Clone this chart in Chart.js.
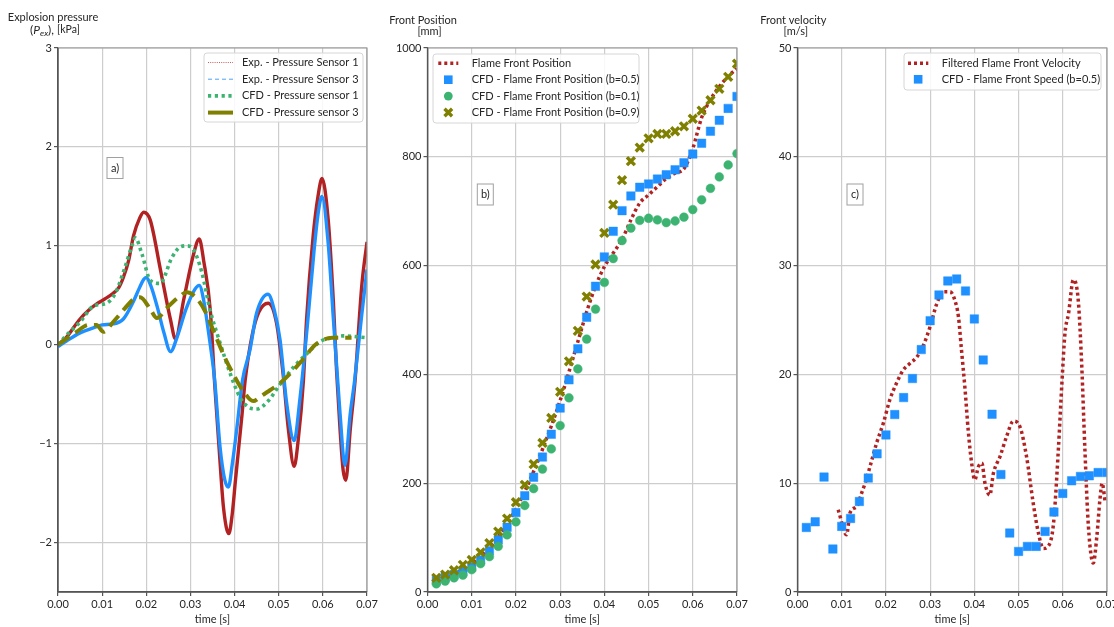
<!DOCTYPE html>
<html>
<head>
<meta charset="utf-8">
<script src="https://cdn.jsdelivr.net/npm/chart.js@4.4.0/dist/chart.umd.min.js"></script>
<style>
    html, body { margin: 0; padding: 0; background: #fff; }
    #figure { position: relative; width: 1114px; height: 627px; overflow: hidden; }
    #figure canvas { position: absolute; top: 0; }
</style>
</head>
<body>
<div id="figure">
    <canvas id="pressureChart" width="385" height="627" style="left:0px"></canvas>
    <canvas id="positionChart" width="380" height="627" style="left:380px"></canvas>
    <canvas id="velocityChart" width="362" height="627" style="left:752px"></canvas>
</div>
<script>
// ---- a) explosion pressure [kPa] vs time [s]
const expSensor1Time = [0, 0.002, 0.0048, 0.007, 0.009, 0.0105, 0.0125, 0.0138, 0.0148, 0.016, 0.0171, 0.0185, 0.0194, 0.0209, 0.0232, 0.0255, 0.0266, 0.0285, 0.0308, 0.032, 0.033, 0.0345, 0.0355, 0.0365, 0.0375, 0.0387, 0.0395, 0.0402, 0.0417, 0.0424, 0.044, 0.0455, 0.0476, 0.0495, 0.051, 0.0522, 0.0535, 0.0544, 0.0556, 0.0563, 0.0578, 0.0589, 0.0598, 0.0612, 0.0624, 0.0631, 0.0639, 0.0646, 0.0652, 0.0662, 0.0673, 0.0688, 0.07];
const expSensor1 = [0, 0.08, 0.25, 0.35, 0.42, 0.46, 0.52, 0.58, 0.68, 0.85, 1.1, 1.28, 1.34, 1.26, 0.76, 0.25, 0.06, 0.46, 0.93, 1.07, 0.85, 0.35, -0.4, -1.05, -1.65, -1.91, -1.7, -1.37, -0.7, -0.36, 0.1, 0.33, 0.42, 0.22, -0.3, -0.86, -1.23, -0.97, -0.36, 0.25, 1.1, 1.5, 1.68, 1.27, 0.42, -0.26, -0.86, -1.27, -1.37, -0.86, -0.36, 0.59, 1.04];

const expSensor3Time = [0, 0.002, 0.005, 0.008, 0.01, 0.0125, 0.0148, 0.017, 0.0185, 0.0194, 0.02, 0.021, 0.0225, 0.024, 0.0255, 0.027, 0.029, 0.031, 0.032, 0.033, 0.034, 0.0345, 0.0355, 0.0367, 0.0378, 0.0386, 0.0395, 0.0405, 0.0418, 0.0435, 0.045, 0.0476, 0.049, 0.0503, 0.0518, 0.0535, 0.0548, 0.0565, 0.058, 0.059, 0.0598, 0.0612, 0.0624, 0.0639, 0.065, 0.0662, 0.0672, 0.0688, 0.07];
const expSensor3 = [-0.02, 0.04, 0.12, 0.17, 0.2, 0.21, 0.26, 0.43, 0.58, 0.66, 0.68, 0.6, 0.38, 0.12, -0.07, 0.08, 0.36, 0.56, 0.6, 0.45, 0.16, 0, -0.36, -1.03, -1.37, -1.44, -1.2, -0.85, -0.36, -0.05, 0.32, 0.51, 0.35, 0.05, -0.59, -0.97, -0.55, 0.2, 0.95, 1.35, 1.5, 1.03, 0.25, -0.7, -1.22, -0.7, -0.36, 0.3, 0.76];

const cfdSensor1Time = [0, 0.002, 0.005, 0.008, 0.011, 0.013, 0.015, 0.0169, 0.0175, 0.019, 0.0209, 0.0231, 0.0258, 0.0277, 0.0292, 0.0307, 0.0326, 0.0344, 0.0367, 0.039, 0.0412, 0.0431, 0.045, 0.0476, 0.0503, 0.0533, 0.0571, 0.0593, 0.062, 0.0646, 0.07];
const cfdSensor1 = [0, 0.1, 0.23, 0.39, 0.42, 0.52, 0.76, 1.02, 1.08, 0.92, 0.65, 0.62, 0.88, 0.99, 1.0, 0.96, 0.73, 0.36, 0.02, -0.29, -0.53, -0.63, -0.65, -0.57, -0.4, -0.23, -0.06, 0.03, 0.07, 0.09, 0.07];

const cfdSensor3Time = [0, 0.0042, 0.0069, 0.0087, 0.0103, 0.0125, 0.0152, 0.0171, 0.0186, 0.0209, 0.0224, 0.0246, 0.0273, 0.0292, 0.0314, 0.0333, 0.0356, 0.0378, 0.0401, 0.042, 0.0442, 0.046, 0.048, 0.0503, 0.0553, 0.0583, 0.0621, 0.0647, 0.0665];
const cfdSensor3 = [0, 0.13, 0.2, 0.2, 0.13, 0.23, 0.37, 0.46, 0.48, 0.36, 0.27, 0.37, 0.48, 0.53, 0.47, 0.34, 0.1, -0.13, -0.33, -0.47, -0.57, -0.52, -0.46, -0.39, -0.16, 0, 0.07, 0.07, 0.07];

// ---- b) front position [mm], c) front velocity [m/s]
const cfdTime = [0.002, 0.004, 0.006, 0.008, 0.010, 0.012, 0.014, 0.016, 0.018, 0.020, 0.022, 0.024, 0.026, 0.028, 0.030, 0.032, 0.034, 0.036, 0.038, 0.040, 0.042, 0.044, 0.046, 0.048, 0.050, 0.052, 0.054, 0.056, 0.058, 0.060, 0.062, 0.064, 0.066, 0.068, 0.070];
const positionB05 = [21, 27, 32, 38, 46, 59, 76, 96, 119, 146, 177, 211, 248, 290, 338, 390, 447, 505, 562, 616, 663, 701, 728, 744, 750, 759, 767, 776, 789, 805, 825, 847, 867, 889, 911];
const positionB01 = [15, 20, 26, 31, 41, 52, 65, 84, 105, 129, 159, 190, 226, 263, 306, 357, 410, 465, 520, 569, 613, 646, 669, 683, 687, 684, 679, 682, 689, 703, 721, 742, 763, 785, 806];
const positionB09 = [26, 32, 40, 50, 59, 73, 90, 111, 135, 165, 197, 235, 274, 320, 368, 424, 480, 543, 602, 660, 712, 757, 792, 817, 834, 842, 842, 847, 856, 870, 885, 904, 925, 947, 971];

const flameTime = [0.002, 0.006, 0.010, 0.014, 0.018, 0.022, 0.026, 0.030, 0.034, 0.036, 0.038, 0.040, 0.042, 0.044, 0.046, 0.048, 0.050, 0.052, 0.054, 0.056, 0.058, 0.060, 0.062, 0.064, 0.066, 0.068, 0.070];
const flamePosition = [20, 33, 52, 82, 125, 185, 262, 352, 460, 515, 562, 598, 623, 648, 684, 715, 730, 745, 760, 770, 778, 815, 872, 905, 929, 948, 962];

const speedB05 = [5.93, 6.45, 10.56, 3.95, 6.03, 6.76, 8.32, 10.47, 12.7, 14.44, 16.31, 17.87, 19.62, 22.28, 24.94, 27.3, 28.59, 28.77, 27.67, 25.1, 21.33, 16.34, 10.8, 5.42, 3.73, 4.19, 4.19, 5.57, 7.35, 9.06, 10.22, 10.62, 10.68, 10.98, 10.98];

const filteredTime = [0.0092, 0.0111, 0.0119, 0.0134, 0.0145, 0.0153, 0.0164, 0.0179, 0.0194, 0.0209, 0.0224, 0.0239, 0.0254, 0.027, 0.0285, 0.03, 0.0315, 0.033, 0.0345, 0.0356, 0.0364, 0.0371, 0.0379, 0.0386, 0.0394, 0.0401, 0.0409, 0.0417, 0.0424, 0.0435, 0.0443, 0.0458, 0.0473, 0.0488, 0.0503, 0.0518, 0.0533, 0.0545, 0.0556, 0.0567, 0.0579, 0.059, 0.0598, 0.0605, 0.0613, 0.0624, 0.0635, 0.0643, 0.065, 0.0658, 0.0669, 0.0677, 0.0684, 0.0689, 0.0696];
const filteredVelocity = [7.56, 5.26, 7.3, 7.86, 9.09, 10.0, 11.53, 13.7, 15.5, 17.7, 19.2, 20.4, 21.0, 21.6, 22.7, 24.4, 26.5, 27.6, 27.6, 26.8, 25.3, 22.2, 18.6, 14.9, 11.8, 10.3, 11.5, 11.85, 10.0, 8.9, 10.9, 12.45, 14.3, 15.7, 15.2, 12.45, 8.2, 5.4, 4.0, 4.2, 6.3, 13.1, 19.2, 23.8, 25.6, 28.7, 26.8, 20.7, 13.1, 6.0, 2.66, 5.1, 8.5, 10.0, 8.2];

const FONT = 'Lato, "Open Sans", sans-serif';
const TEXT = '#262626';
const RED = '#b22222', BLUE = '#1e90ff', GREEN = '#3cb371', OLIVE = '#808000';

Chart.defaults.font.family = FONT;
Chart.defaults.font.size = 11;
Chart.defaults.color = TEXT;

function points(times, values) {
    return times.map((t, i) => ({ x: t, y: values[i] }));
}

function timeAxis() {
    return {
        type: 'linear', min: 0, max: 0.07,
        ticks: { stepSize: 0.01, padding: 2, maxRotation: 0, autoSkip: false, callback: v => v.toFixed(2) },
        grid: { color: '#cdcdcd', lineWidth: 1.2, tickColor: '#555', tickLength: 4 },
        border: { color: '#555', width: 1.3 },
        title: { display: true, text: 'time [s]', padding: { top: 0, bottom: 1 } },
        afterFit: s => { s.height = 35; s.paddingLeft = 0; s.paddingRight = 0; }
    };
}

function valueAxis(min, max, step, width) {
    return {
        type: 'linear', min: min, max: max,
        ticks: { stepSize: step, padding: 2, includeBounds: false,
                 callback: v => v < 0 ? '\u2212' + Math.abs(v) : String(v) },
        grid: { color: '#cdcdcd', lineWidth: 1.2, tickColor: '#555', tickLength: 4 },
        border: { color: '#555', width: 1.3 },
        afterFit: s => { s.width = width; s.paddingTop = 0; s.paddingBottom = 0; }
    };
}

// frame, captions, tag box and legend drawn over the chart
function drawFrame(chart) {
    const { ctx, chartArea: a } = chart;
    ctx.save();
    ctx.lineWidth = 1.2;
    ctx.strokeStyle = '#999';
    ctx.beginPath();
    ctx.moveTo(a.left, a.top); ctx.lineTo(a.right, a.top); ctx.lineTo(a.right, a.bottom);
    ctx.stroke();
    ctx.lineWidth = 1.3;
    ctx.strokeStyle = '#555';
    ctx.beginPath();
    ctx.moveTo(a.left, a.top); ctx.lineTo(a.left, a.bottom); ctx.lineTo(a.right, a.bottom);
    ctx.stroke();
    ctx.restore();
}

function drawCaption(ctx, lines) {
    ctx.save();
    ctx.fillStyle = TEXT;
    ctx.textBaseline = 'middle';
    lines.forEach(line => {
        let total = 0;
        line.parts.forEach(p => { ctx.font = p.font; total += ctx.measureText(p.text).width; });
        let x = line.cx - total / 2;
        line.parts.forEach(p => {
            ctx.font = p.font;
            ctx.fillText(p.text, x, line.y + (p.dy || 0));
            x += ctx.measureText(p.text).width;
        });
    });
    ctx.restore();
}

function drawTag(ctx, tag) {
    ctx.save();
    ctx.fillStyle = '#fff';
    ctx.fillRect(tag.cx - tag.w / 2, tag.cy - tag.h / 2, tag.w, tag.h);
    ctx.strokeStyle = '#a0a0a0';
    ctx.lineWidth = 1;
    ctx.strokeRect(tag.cx - tag.w / 2, tag.cy - tag.h / 2, tag.w, tag.h);
    ctx.fillStyle = TEXT;
    ctx.font = '11px ' + FONT;
    ctx.textAlign = 'center';
    ctx.textBaseline = 'middle';
    ctx.fillText(tag.text, tag.cx, tag.cy);
    ctx.restore();
}

function drawSample(ctx, s, x0, x1, y) {
    const cx = (x0 + x1) / 2;
    ctx.save();
    ctx.fillStyle = s.color;
    ctx.strokeStyle = s.color;
    if (s.kind === 'line') {
        ctx.lineWidth = s.width;
        ctx.setLineDash(s.dash || []);
        ctx.beginPath();
        ctx.moveTo(x0, y); ctx.lineTo(x1, y);
        ctx.stroke();
    } else if (s.kind === 'rect') {
        ctx.fillRect(cx - 4.3, y - 4.3, 8.6, 8.6);
    } else if (s.kind === 'circle') {
        ctx.beginPath();
        ctx.arc(cx, y, 4.4, 0, Math.PI * 2);
        ctx.fill();
    } else if (s.kind === 'cross') {
        ctx.lineWidth = 3.4;
        ctx.beginPath();
        ctx.moveTo(cx - 3.8, y - 3.8); ctx.lineTo(cx + 3.8, y + 3.8);
        ctx.moveTo(cx + 3.8, y - 3.8); ctx.lineTo(cx - 3.8, y + 3.8);
        ctx.stroke();
    }
    ctx.restore();
}

function drawLegend(chart, lg) {
    const ctx = chart.ctx;
    ctx.save();
    ctx.beginPath();
    if (ctx.roundRect) ctx.roundRect(lg.x, lg.y, lg.w, lg.h, 3);
    else ctx.rect(lg.x, lg.y, lg.w, lg.h);
    ctx.fillStyle = 'rgba(255,255,255,0.85)';
    ctx.fill();
    ctx.strokeStyle = '#d6d6d6';
    ctx.lineWidth = 1;
    ctx.stroke();
    chart.data.datasets.forEach((ds, i) => {
        const y = lg.top + i * lg.gap;
        drawSample(ctx, ds.legendSample, lg.sx0, lg.sx1, y);
        ctx.fillStyle = TEXT;
        ctx.font = '11px ' + FONT;
        ctx.textBaseline = 'middle';
        ctx.fillText(ds.label, lg.tx, y);
    });
    ctx.restore();
}

function overlay(cfg) {
    return {
        id: 'overlay',
        afterDatasetsDraw(chart) { drawFrame(chart); },
        afterDraw(chart) {
            drawCaption(chart.ctx, cfg.caption);
            drawTag(chart.ctx, cfg.tag);
            drawLegend(chart, cfg.legend);
        }
    };
}

function baseOptions(yAxis, rightPad) {
    return {
        responsive: false,
        animation: false,
        layout: { padding: { left: 0, top: 48, right: rightPad, bottom: 0 } },
        plugins: { legend: { display: false }, tooltip: { enabled: false } },
        scales: { x: timeAxis(), y: yAxis }
    };
}

function createPressureChart() {
    new Chart(document.getElementById('pressureChart'), {
        type: 'scatter',
        data: {
            datasets: [
                {
                    label: 'Exp. - Pressure Sensor 1',
                    data: points(expSensor1Time, expSensor1),
                    showLine: true, borderColor: RED, borderWidth: 3.4, pointRadius: 0,
                    cubicInterpolationMode: 'monotone', clip: 0, order: 4,
                    legendSample: { kind: 'line', color: '#d25a5a', width: 1, dash: [1, 1.2] }
                },
                {
                    label: 'Exp. - Pressure Sensor 3',
                    data: points(expSensor3Time, expSensor3),
                    showLine: true, borderColor: BLUE, borderWidth: 3.4, pointRadius: 0,
                    cubicInterpolationMode: 'monotone', clip: 0, order: 3,
                    legendSample: { kind: 'line', color: '#4aa2f5', width: 1, dash: [4, 3] }
                },
                {
                    label: 'CFD - Pressure sensor 1',
                    data: points(cfdSensor1Time, cfdSensor1),
                    showLine: true, borderColor: GREEN, borderWidth: 3.6, borderDash: [3.2, 3.6],
                    pointRadius: 0, cubicInterpolationMode: 'monotone', clip: 0, order: 2,
                    legendSample: { kind: 'line', color: GREEN, width: 3.6, dash: [3.2, 3.6] }
                },
                {
                    label: 'CFD - Pressure sensor 3',
                    data: points(cfdSensor3Time, cfdSensor3),
                    showLine: true, borderColor: OLIVE, borderWidth: 4, borderDash: [14, 7],
                    pointRadius: 0, cubicInterpolationMode: 'monotone', clip: 0, order: 1,
                    legendSample: { kind: 'line', color: OLIVE, width: 4 }
                }
            ]
        },
        options: baseOptions(valueAxis(-2.5, 3, 1, 58), 18),
        plugins: [overlay({
            caption: [
                { cx: 53, y: 17, parts: [{ text: 'Explosion pressure', font: '11px ' + FONT }] },
                { cx: 55, y: 30, parts: [
                    { text: '(', font: '12px ' + FONT },
                    { text: 'P', font: 'italic 12px ' + FONT },
                    { text: 'ex', font: 'italic 8.5px ' + FONT, dy: 3 },
                    { text: '), ', font: '12px ' + FONT },
                    { text: '[kPa]', font: '10.5px ' + FONT }
                ] }
            ],
            tag: { text: 'a)', cx: 115, cy: 168, w: 16, h: 21 },
            legend: { x: 204, y: 53, w: 159, h: 69, top: 62.5, gap: 16.7, sx0: 208, sx1: 233, tx: 242 }
        })]
    });
}

function createPositionChart() {
    new Chart(document.getElementById('positionChart'), {
        type: 'scatter',
        data: {
            datasets: [
                {
                    label: 'Flame Front Position',
                    data: points(flameTime, flamePosition),
                    showLine: true, borderColor: RED, borderWidth: 3.5, borderDash: [3, 3],
                    pointRadius: 0, cubicInterpolationMode: 'monotone', clip: 0, order: 4,
                    legendSample: { kind: 'line', color: RED, width: 3.5, dash: [3, 3] }
                },
                {
                    label: 'CFD - Flame Front Position (b=0.5)',
                    data: points(cfdTime, positionB05),
                    pointStyle: 'rect', pointRadius: 6, backgroundColor: BLUE,
                    borderColor: 'rgba(30,144,255,0.45)', borderWidth: 1, clip: 0, order: 3,
                    legendSample: { kind: 'rect', color: BLUE }
                },
                {
                    label: 'CFD - Flame Front Position (b=0.1)',
                    data: points(cfdTime, positionB01),
                    pointStyle: 'circle', pointRadius: 4.4, backgroundColor: GREEN,
                    borderColor: 'rgba(60,179,113,0.45)', borderWidth: 1, clip: 0, order: 2,
                    legendSample: { kind: 'circle', color: GREEN }
                },
                {
                    label: 'CFD - Flame Front Position (b=0.9)',
                    data: points(cfdTime, positionB09),
                    pointStyle: 'crossRot', pointRadius: 5.6, borderColor: OLIVE,
                    borderWidth: 3.4, clip: 0, order: 1,
                    legendSample: { kind: 'cross', color: OLIVE }
                }
            ]
        },
        options: baseOptions(valueAxis(0, 1000, 200, 47.5), 23),
        plugins: [overlay({
            caption: [
                { cx: 43, y: 20, parts: [{ text: 'Front Position', font: '11px ' + FONT }] },
                { cx: 49.5, y: 31.5, parts: [{ text: '[mm]', font: '11px ' + FONT }] }
            ],
            tag: { text: 'b)', cx: 105.3, cy: 194.5, w: 16, h: 21 },
            legend: { x: 53, y: 54, w: 206, h: 69, top: 63.3, gap: 16.4, sx0: 58.3, sx1: 78.3, tx: 91.7 }
        })]
    });
}

function createVelocityChart() {
    new Chart(document.getElementById('velocityChart'), {
        type: 'scatter',
        data: {
            datasets: [
                {
                    label: 'Filtered Flame Front Velocity',
                    data: points(filteredTime, filteredVelocity),
                    showLine: true, borderColor: RED, borderWidth: 3.5, borderDash: [3, 3],
                    pointRadius: 0, cubicInterpolationMode: 'monotone', clip: 0, order: 2,
                    legendSample: { kind: 'line', color: RED, width: 3.5, dash: [3, 3] }
                },
                {
                    label: 'CFD - Flame Front Speed (b=0.5)',
                    data: points(cfdTime, speedB05),
                    pointStyle: 'rect', pointRadius: 6, backgroundColor: BLUE,
                    borderColor: 'rgba(30,144,255,0.45)', borderWidth: 1, clip: 0, order: 1,
                    legendSample: { kind: 'rect', color: BLUE }
                }
            ]
        },
        options: baseOptions(valueAxis(0, 50, 10, 45.5), 7),
        plugins: [overlay({
            caption: [
                { cx: 41.3, y: 20.5, parts: [{ text: 'Front velocity', font: '11px ' + FONT }] },
                { cx: 43.8, y: 31.7, parts: [{ text: '[m/s]', font: '11px ' + FONT }] }
            ],
            tag: { text: 'c)', cx: 103, cy: 194.5, w: 16, h: 21 },
            legend: { x: 152, y: 53, w: 197, h: 37, top: 63.3, gap: 16, sx0: 156, sx1: 176.3, tx: 189.7 }
        })]
    });
}

function createCharts() {
    createPressureChart();
    createPositionChart();
    createVelocityChart();
}

Promise.all([
    document.fonts.load('11px Lato'),
    document.fonts.load('italic 12px Lato')
]).catch(() => null).then(createCharts);
</script>
</body>
</html>
